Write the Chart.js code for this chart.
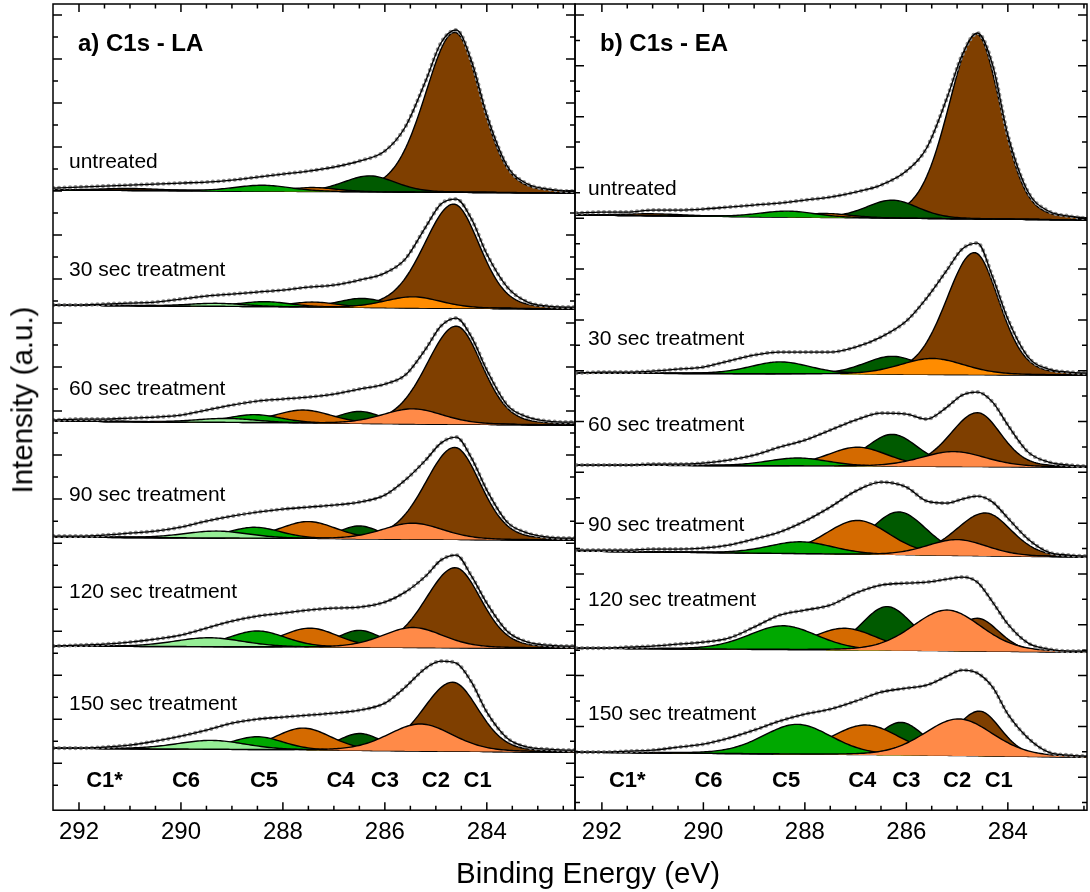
<!DOCTYPE html>
<html>
<head>
<meta charset="utf-8">
<script src="https://cdn.jsdelivr.net/npm/chart.js@4.4.1/dist/chart.umd.min.js"></script>
<style>
  html, body { margin: 0; padding: 0; background: #fff; }
  #wrap { position: relative; width: 1090px; height: 892px; overflow: hidden; font-family: "Liberation Sans", Arial, sans-serif; color: #000; }
  canvas { position: absolute; top: 0; }
  .lbl { position: absolute; white-space: nowrap; line-height: 1; transform: translateY(-50%); }
</style>
</head>
<body>
<div id="wrap">
  <canvas id="chartLA" width="578" height="892" style="left:0"></canvas>
  <canvas id="chartEA" width="518" height="892" style="left:572px"></canvas>
</div>
<script>
const energyGrid = [292.5, 292, 291.5, 291, 290.5, 290, 289.5, 289, 288.5, 288, 287.5, 287, 286.5, 286, 285.6, 285.2, 284.9, 284.6, 284.3, 284, 283.6, 283.2, 282.8, 282.4, 282.2];
const treatments = ['untreated', '30 sec treatment', '60 sec treatment', '90 sec treatment', '120 sec treatment', '150 sec treatment'];
// component columns: C1, C2, C3, C4, C5, C6, C1*
const componentNames = ['C1', 'C2', 'C3', 'C4', 'C5', 'C6', 'C1*'];
const componentLabelPos = [284.18, 285.0, 286.0, 286.87, 288.37, 289.9, 291.5];
const energyTicks = [292, 290, 288, 286, 284];

// ---- a) C1s - LA ----
const laOffset = [617, 501, 385, 270, 162, 58];
const laTilt = [3, 4, 4, 3, 2, 4];
const laEnvelope = [
  [5, 6, 7, 8, 9, 10, 11, 13, 16, 19, 22, 26, 32, 42, 66, 112, 150, 163, 132, 78, 27, 9, 4, 2, 2],
  [4, 4, 5, 6, 7, 10, 13, 15, 17, 19, 22, 24, 29, 36, 50, 82, 105, 110, 90, 55, 22, 7, 3, 2, 2],
  [5, 6, 6, 7, 8, 10, 15, 20, 24, 26, 28, 31, 36, 41, 50, 76, 99, 107, 88, 55, 20, 8, 4, 3, 3],
  [4, 4, 5, 7, 9, 13, 19, 24, 28, 31, 33, 35, 38, 45, 60, 80, 97, 103, 82, 50, 18, 7, 3, 2, 2],
  [2, 3, 4, 6, 9, 13, 20, 27, 32, 35, 38, 40, 41, 46, 56, 72, 88, 93, 72, 45, 17, 6, 3, 2, 2],
  [4, 4, 5, 7, 11, 16, 22, 29, 33, 35, 37, 39, 42, 49, 65, 84, 91, 89, 70, 40, 14, 5, 3, 2, 2]
];
const laPos = [
  [284.63, 285.45, 286.3, 287.4, 288.4, 289.3, 291.0],
  [284.65, 285.45, 286.45, 287.4, 288.35, 289.3, 291.0],
  [284.6, 285.45, 286.5, 287.6, 288.55, 289.1, 291.0],
  [284.63, 285.45, 286.5, 287.5, 288.55, 289.3, 291.0],
  [284.62, 285.45, 286.5, 287.47, 288.5, 289.45, 291.0],
  [284.67, 285.3, 286.49, 287.6, 288.5, 289.4, 291.0]
];
const laHeight = [
  [160, 0, 16, 4, 6, 0, 2],
  [104, 11, 9, 5, 5, 3, 0],
  [98, 15, 12, 13, 8, 4, 0],
  [92, 16, 13, 17, 11, 7, 0],
  [80, 20, 17, 19, 16, 9, 0],
  [69, 27, 17, 22, 13, 9, 0]
];
const laWidth = [
  [1.2, 1.3, 1.2, 1.1, 1.3, 1.4, 1.5],
  [1.2, 1.3, 1.1, 1.1, 1.2, 1.3, 1.5],
  [1.2, 1.4, 1.0, 1.3, 1.2, 1.4, 1.5],
  [1.2, 1.4, 0.9, 1.3, 1.2, 1.5, 1.5],
  [1.2, 1.4, 1.0, 1.3, 1.3, 1.6, 1.5],
  [1.2, 1.5, 1.0, 1.3, 1.2, 1.6, 1.5]
];

// ---- b) C1s - EA ----
const eaOffset = [590, 435, 343, 253, 158, 53];
const eaTilt = [5, 2, 2, 6, 4, 5];
const eaEnvelope = [
  [7, 8, 8, 10, 10, 11, 13, 15, 17, 20, 23, 28, 35, 49, 72, 122, 165, 187, 155, 85, 28, 9, 4, 2, 2],
  [2, 3, 3, 4, 6, 8, 14, 20, 23, 23, 23, 28, 38, 54, 77, 105, 126, 132, 98, 56, 18, 6, 3, 2, 2],
  [2, 2, 2, 3, 3, 4, 7, 12, 20, 27, 37, 47, 54, 53, 48, 60, 72, 75, 65, 42, 15, 5, 2, 1, 1],
  [7, 7, 7, 8, 8, 9, 12, 18, 25, 36, 50, 66, 75, 70, 56, 54, 58, 61, 55, 39, 18, 5, 2, 1, 1],
  [4, 4, 5, 6, 8, 10, 14, 25, 37, 42, 47, 59, 67, 69, 70, 73, 75, 70, 50, 28, 9, 3, 1, 1, 1],
  [5, 5, 6, 7, 10, 13, 19, 27, 36, 43, 48, 56, 65, 69, 72, 81, 87, 84, 70, 43, 19, 5, 2, 1, 1]
];
const eaPos = [
  [284.62, 285.5, 286.28, 287.6, 288.34, 289.3, 291.0],
  [284.66, 285.49, 286.28, 287.4, 288.48, 289.3, 291.0],
  [284.6, 285.07, 286.28, 286.96, 288.14, 289.3, 291.0],
  [284.44, 285.0, 286.15, 286.96, 288.08, 289.3, 291.0],
  [284.6, 285.2, 286.38, 287.22, 288.43, 289.3, 291.0],
  [284.56, 284.97, 286.11, 286.8, 288.15, 289.3, 291.0]
];
const eaHeight = [
  [185, 0, 18, 4, 6, 0, 2],
  [122, 16, 18, 2, 12, 0, 0],
  [54, 15, 32, 19, 8, 0, 0],
  [43, 16, 43, 34, 12, 0, 0],
  [33, 41, 44, 22, 24, 0, 0],
  [45, 37, 33, 30, 30, 0, 0]
];
const eaWidth = [
  [1.13, 1.3, 1.2, 1.2, 1.3, 1.4, 1.5],
  [1.15, 1.5, 1.3, 1.2, 1.4, 1.4, 1.5],
  [1.1, 1.5, 1.2, 1.4, 1.4, 1.4, 1.5],
  [1.2, 1.4, 1.3, 1.5, 1.5, 1.4, 1.5],
  [1.0, 1.6, 1.2, 1.5, 1.6, 1.4, 1.5],
  [1.0, 1.6, 1.1, 1.6, 1.6, 1.4, 1.5]
];

const componentColors = ['#7f3f00', '#ff8a48', '#005a00', '#d46a00', '#00a800', '#96ee96', '#7f3f00'];
const brightOrange = '#ff8c00';   // C2 in the 30 sec spectra
const drawOrder = [0, 6, 2, 3, 4, 5, 1]; // back to front
const FONT = '"Liberation Sans", Arial, sans-serif';

// fitted component line shape (Gauss-Lorentz sum), C1 gets a longer high-BE side
function peak(e, c, h, w, asym) {
  const d = e - c;
  const hw = d > 0 ? w / 2 * asym : w / 2;
  const r2 = (d / hw) * (d / hw);
  return h * (0.8 * Math.exp(-Math.LN2 * r2) + 0.2 / (1 + r2));
}

function buildDatasets(p) {
  const sets = [];
  const span = p.max - p.min;
  const xs = [];
  for (let e = p.min - 0.04; e <= p.max + 0.08; e += 0.04) xs.push(e);

  p.offset.forEach((off, s) => {
    const base = e => off + p.tilt[s] * (e - p.min) / span;
    const baseIdx = sets.length;
    sets.push({ data: xs.map(e => ({ x: e, y: base(e) })), borderWidth: 0, borderColor: 'rgba(0,0,0,0)', fill: false });

    drawOrder.forEach(k => {
      const h = p.height[s][k];
      if (!h) return;
      const color = (k === 1 && s === 1) ? brightOrange : componentColors[k];
      sets.push({
        data: xs.map(e => ({ x: e, y: base(e) + peak(e, p.pos[s][k], h, p.width[s][k], k === 0 ? 1.15 : 1) })),
        borderColor: '#000', borderWidth: 1.4, backgroundColor: color, fill: baseIdx
      });
    });

    // measured points (grey dots) with the fit envelope on top
    const env = p.envelope[s].map((v, i) => ({ x: energyGrid[i], y: off + v }));
    sets.push({ data: env, borderColor: '#8e8e8e', borderWidth: 4.2, borderDash: [0, 5.5], borderCapStyle: 'round',
      cubicInterpolationMode: 'monotone', fill: false });
    sets.push({ data: env, borderColor: '#000', borderWidth: 1.3, cubicInterpolationMode: 'monotone', fill: false });
  });
  sets.forEach((d, i) => { d.order = sets.length - i; });
  return sets;
}

const framePlugin = {
  id: 'frame',
  afterDatasetsDraw(chart, args, opts) {
    const { ctx, chartArea: a, scales: { x, y } } = chart;
    ctx.save();
    ctx.strokeStyle = '#000';
    ctx.lineWidth = 1.5;
    ctx.beginPath();
    for (let e = 282.5; e <= 292.5; e += 0.5) {
      const px = x.getPixelForValue(e);
      if (px < a.left + 2 || px > a.right - 2) continue;
      const len = e % 2 === 0 ? 8 : 4.5;
      ctx.moveTo(px, a.bottom); ctx.lineTo(px, a.bottom - len);
      ctx.moveTo(px, a.top); ctx.lineTo(px, a.top + len);
    }
    let i = 0;
    for (let v = opts.yFirst; v > 4; v -= opts.yStep, i++) {
      const py = y.getPixelForValue(v);
      const len = i % 2 === 0 ? 9 : 5;
      ctx.moveTo(a.left, py); ctx.lineTo(a.left + len, py);
      ctx.moveTo(a.right, py); ctx.lineTo(a.right - len, py);
    }
    ctx.stroke();
    ctx.strokeRect(a.left, a.top, a.right - a.left, a.bottom - a.top);
    ctx.restore();
  }
};

function makePanel(id, p) {
  return new Chart(document.getElementById(id), {
    type: 'line',
    data: { datasets: buildDatasets(p) },
    options: {
      responsive: false,
      animation: false,
      events: [],
      parsing: false,
      layout: { padding: { left: p.padL, right: p.padR, top: 4, bottom: 37 } },
      elements: { point: { radius: 0 }, line: { borderJoinStyle: 'round', tension: 0 } },
      plugins: { legend: { display: false }, tooltip: { enabled: false }, frame: { yFirst: 795, yStep: p.yStep } },
      scales: {
        x: {
          type: 'linear', min: p.min, max: p.max, reverse: true,
          afterBuildTicks: s => { s.ticks = energyTicks.map(v => ({ value: v })); },
          grid: { display: false, drawTicks: false },
          border: { display: false },
          ticks: { padding: 8, color: '#000', font: { size: 24, family: FONT } }
        },
        y: { display: false, min: 0, max: 806 }
      }
    },
    plugins: [framePlugin]
  });
}

const la = makePanel('chartLA', {
  min: 282.27, max: 292.51, padL: 53, padR: 3, yStep: 22,
  offset: laOffset, tilt: laTilt, envelope: laEnvelope, pos: laPos, height: laHeight, width: laWidth
});
const ea = makePanel('chartEA', {
  min: 282.44, max: 292.53, padL: 3, padR: 3, yStep: 25.4,
  offset: eaOffset, tilt: eaTilt, envelope: eaEnvelope, pos: eaPos, height: eaHeight, width: eaWidth
});

// ---- text ----
const wrap = document.getElementById('wrap');
function addText(txt, left, cy, size, bold, centered) {
  const d = document.createElement('div');
  d.className = 'lbl';
  d.textContent = txt;
  d.style.left = left + 'px';
  d.style.top = cy + 'px';
  d.style.fontSize = size + 'px';
  if (bold) d.style.fontWeight = 'bold';
  if (centered) d.style.transform = 'translate(-50%, -50%)';
  wrap.appendChild(d);
  return d;
}

addText('a) C1s - LA', 78, 43, 24, true);
addText('b) C1s - EA', 600, 43, 24, true);

const laLabelY = [160, 268, 387, 493, 590, 702];
const eaLabelY = [187, 337, 423, 523, 598, 712];
treatments.forEach((t, i) => {
  addText(t, 69, laLabelY[i], 21, false);
  addText(t, 588, eaLabelY[i], 21, false);
});

[[la, 0], [ea, 572]].forEach(([chart, left]) => {
  componentNames.forEach((n, k) => {
    addText(n, left + chart.scales.x.getPixelForValue(componentLabelPos[k]), 780, 22, true, true);
  });
});

addText('Binding Energy (eV)', 588, 873, 29.5, false, true);
const yt = addText('Intensity (a.u.)', 22, 400, 29.5, false, true);
yt.style.transform = 'translate(-50%, -50%) rotate(-90deg)';
</script>
</body>
</html>
